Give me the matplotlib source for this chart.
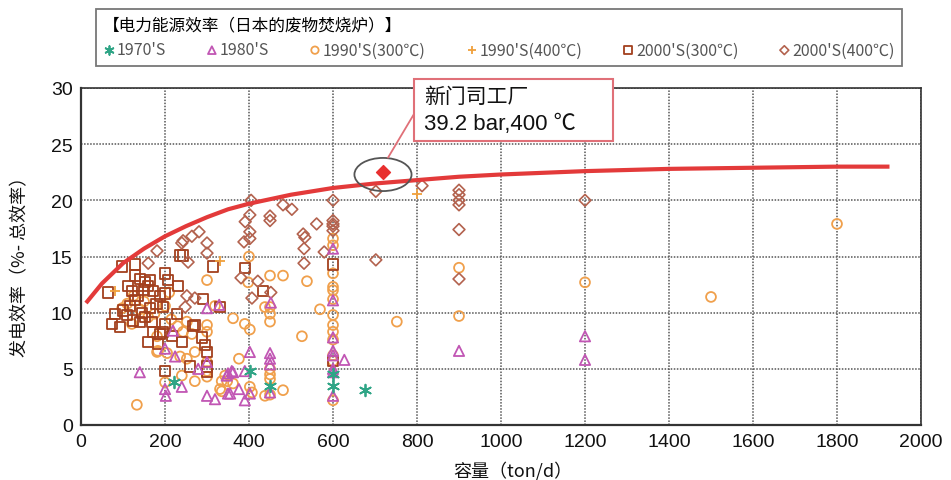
import numpy as np
import matplotlib
matplotlib.use("Agg")
import matplotlib.pyplot as plt
from matplotlib.patches import Ellipse, Rectangle, ConnectionPatch

cjk = ['Noto Sans CJK SC', 'DejaVu Sans']
latin = ['Liberation Sans', 'Noto Sans CJK SC', 'DejaVu Sans']

# 1970's
s1970_x = [221, 402, 450, 600, 600, 676]
s1970_y = [3.8, 4.8, 3.5, 4.5, 3.5, 3.1]

# 1980's
s1980_x = [140, 200, 224, 219, 200, 202, 240, 300, 329, 300, 300, 319, 355, 347, 362,
           279, 350, 376, 350, 390, 402, 402, 390, 452, 450, 450, 450, 450, 359,
           600, 600, 600, 600, 600, 600, 600, 600, 627, 900, 1200, 1200]
s1980_y = [4.7, 6.8, 6.1, 8.4, 3.2, 2.6, 3.4, 10.4, 10.7, 5.6, 2.6, 2.3, 2.8, 4.4, 4.7,
           5.0, 4.6, 3.2, 2.8, 4.8, 6.5, 2.8, 2.2, 10.9, 6.4, 5.9, 5.4, 2.9, 4.8,
           15.7, 11.1, 7.8, 6.6, 6.2, 5.0, 4.7, 2.6, 5.8, 6.6, 7.9, 5.8]

# 1990's (300°C)
s1990a_x = [133, 200, 240, 271, 331, 348, 181, 205, 236, 252, 271, 243, 264, 252, 300,
            300, 362, 300, 300, 300, 319, 300, 98, 121, 160, 181, 183, 110, 140, 175,
            200, 215, 230, 210, 150, 125,
            343, 335, 335, 362, 376, 390, 402, 402, 407, 438, 438, 400, 398, 450,
            481, 538, 450, 450, 450, 450, 450, 450, 450, 481, 526, 569, 752,
            600, 600, 600, 600, 600, 600, 600, 600, 600, 600, 600, 600, 600,
            900, 900, 1200, 1500, 1800]
s1990a_y = [1.8, 3.8, 4.4, 3.9, 3.2, 3.9, 6.5, 6.4, 6.1, 5.9, 6.5, 8.3, 8.1, 9.2, 8.9,
            8.3, 9.5, 5.6, 4.3, 4.8, 10.6, 12.9, 10.4, 9.0, 9.6, 7.9, 6.6, 10.8, 10.3, 9.9,
            10.6, 9.4, 8.8, 11.8, 11.0, 11.5,
            4.4, 3.0, 3.9, 3.7, 5.9, 9.0, 8.5, 3.4, 2.9, 2.6, 10.5, 15.0, 12.7, 13.3,
            13.3, 12.8, 10.5, 9.9, 9.2, 5.0, 4.5, 4.1, 2.7, 3.1, 7.9, 10.3, 9.2,
            16.6, 16.0, 13.5, 12.3, 12.0, 11.2, 9.8, 8.9, 8.3, 7.6, 6.2, 5.7, 2.2,
            14.0, 9.7, 12.7, 11.4, 17.9]

# 1990's (400°C)
s1990b_x = [81, 331, 800]
s1990b_y = [11.9, 14.6, 20.6]

# 2000's (300°C)
s2000a_x = [65, 74, 93, 81, 100, 109, 124, 140, 152, 169, 117, 129, 164, 195, 229,
            200, 171, 195, 188, 217, 160, 183, 240, 271, 98, 129, 236, 243, 314, 200,
            207, 231, 129, 140, 152, 160, 121, 136, 171, 188, 200, 290, 331, 390, 433,
            300, 300, 300, 200, 260, 267, 288, 295, 600, 600, 150, 112, 165, 180, 145]
s2000a_y = [11.8, 9.0, 8.7, 9.9, 10.2, 9.8, 9.3, 9.2, 9.6, 9.2, 10.6, 11.1, 10.4, 10.5, 9.9,
            9.0, 8.3, 8.3, 8.1, 7.9, 7.4, 7.2, 7.4, 8.9, 14.1, 14.3, 15.1, 15.1, 14.1, 13.5,
            12.9, 12.4, 13.3, 13.0, 12.7, 12.4, 11.9, 11.5, 11.9, 11.5, 11.7, 11.2, 10.5, 14.0, 11.9,
            6.5, 5.2, 4.7, 4.8, 5.2, 8.8, 7.8, 7.1, 14.3, 5.7, 12.0, 12.4, 12.9, 10.8, 10.0]

# 2000's (400°C)
s2000b_x = [702, 812, 900, 900, 900, 900, 900, 900, 1200, 600, 600, 600, 600, 600,
            561, 529, 533, 531, 531, 579, 702, 405, 481, 502, 402, 391, 450, 450,
            402, 402, 388, 381, 421, 452, 407, 281, 264, 243, 240, 181, 300, 300,
            255, 160, 252, 271, 248]
s2000b_y = [20.8, 21.3, 20.9, 20.5, 20.0, 19.6, 17.4, 13.0, 20.0, 20.0, 18.2, 17.9, 17.7, 17.3,
            17.9, 17.0, 16.7, 15.7, 14.4, 15.4, 14.7, 20.0, 19.6, 19.2, 18.7, 18.1, 18.6, 18.2,
            17.2, 16.6, 16.3, 13.1, 12.8, 11.8, 11.3, 17.2, 16.8, 16.4, 16.2, 15.5, 16.2, 15.3,
            14.5, 14.4, 11.5, 11.3, 10.5]

# trend curve
curve_x = [15, 50, 100, 150, 200, 250, 300, 350, 400, 500, 600, 700, 800, 900,
           1000, 1200, 1400, 1600, 1800, 1920]
curve_y = [11.0, 12.6, 14.4, 15.7, 16.8, 17.7, 18.5, 19.2, 19.7, 20.5, 21.1, 21.5, 21.8,
           22.1, 22.3, 22.6, 22.8, 22.9, 23.0, 23.0]

# 新门司工厂
shin_x = [719]
shin_y = [22.5]

fig = plt.figure(figsize=(9.51, 4.81), dpi=100)
ax = fig.add_axes([81/951, 55/481, 840/951, 337/481])

ax.set_xlim(0, 2000)
ax.set_ylim(0, 30)
ax.set_xticks(np.arange(0, 2001, 200))
ax.set_yticks(np.arange(0, 31, 5))
ax.grid(True, color='#555555', linestyle=(0, (1, 1)), linewidth=1.1)
ax.set_axisbelow(True)
for sp in ax.spines.values():
    sp.set_color('#333333')
    sp.set_linewidth(1.2)
ax.spines['left'].set_linewidth(1.6)
ax.spines['bottom'].set_linewidth(1.6)
ax.tick_params(length=0, pad=6, labelsize=14, colors='#111111')
for lab in ax.get_xticklabels() + ax.get_yticklabels():
    lab.set_family(latin)

c70 = '#2fa586'
c80 = '#c156b4'
c90 = '#f0a04c'
c90b = '#f0a03c'
c00a = '#a3401e'
c00b = '#b3624e'

ax.scatter(s1990a_x, s1990a_y, s=50, marker='o', facecolors='none', edgecolors=c90,
           linewidths=1.3, label="1990'S(300℃)", zorder=3)
ax.scatter(s2000a_x, s2000a_y, s=55, marker='s', facecolors='none', edgecolors=c00a,
           linewidths=1.3, label="2000'S(300℃)", zorder=3)
ax.scatter(s2000b_x, s2000b_y, s=36, marker='D', facecolors='none', edgecolors=c00b,
           linewidths=1.2, label="2000'S(400℃)", zorder=3)
ax.scatter(s1980_x, s1980_y, s=55, marker='^', facecolors='none', edgecolors=c80,
           linewidths=1.3, label="1980'S", zorder=4)
ax.scatter(s1990b_x, s1990b_y, s=60, marker='+', color=c90b, linewidths=1.3,
           label="1990'S(400℃)", zorder=4)
ax.scatter(s1970_x, s1970_y, s=70, marker=(6, 2, 0), color=c70, linewidths=1.3,
           label="1970'S", zorder=4)

ax.plot(curve_x, curve_y, color='#e33a3a', linewidth=3, zorder=5)

ax.scatter(shin_x, shin_y, s=50, marker='D', color='#e8302f', zorder=6)
ax.add_patch(Ellipse((shin_x[0], shin_y[0] - 0.2), 136, 2.95, fill=False,
                     edgecolor='#555555', linewidth=1.3, zorder=6))

# annotation box
fig.add_artist(Rectangle((414/951, 1 - 142/481), 199/951, 62/481, transform=fig.transFigure,
                         facecolor='white', edgecolor='#e07078', linewidth=1.5, zorder=10))
fig.text(424/951, 1 - 97/481, '新门司工厂', fontsize=15, family=cjk, va='center',
         ha='left', color='#111111', zorder=11)
fig.text(424/951, 1 - 125/481, '39.2 bar,400 ℃', fontsize=16, family=latin, va='center',
         ha='left', color='#111111', zorder=11)
con = ConnectionPatch(xyA=(414/951, 1 - 115/481), coordsA='figure fraction',
                      xyB=(shin_x[0] + 12, shin_y[0] + 1.3), coordsB='data', axesB=ax,
                      color='#e07078', linewidth=1.3, zorder=9)
fig.add_artist(con)

# axis titles
fig.text(20/951, 1 - 262/481, '发电效率（%- 总效率）', rotation=90, fontsize=13,
         family=cjk, ha='center', va='center', color='#111111')
fig.text(513/951, 1 - 471/481, '容量（ton/d）', fontsize=13, family=cjk,
         ha='center', va='center', color='#111111')

# legend
handles, labels = ax.get_legend_handles_labels()
order = ["1970'S", "1980'S", "1990'S(300℃)", "1990'S(400℃)", "2000'S(300℃)", "2000'S(400℃)"]
hmap = dict(zip(labels, handles))
leg = fig.legend([hmap[k] for k in order], order, loc='upper left',
                 bbox_to_anchor=(88/951, 1 - 7/481, 822/951, 0.01), mode='expand',
                 ncol=6, frameon=True, fancybox=False, edgecolor='#555555',
                 title='【电力能源效率（日本的废物焚烧炉）】', alignment='left',
                 handlelength=0.7, handletextpad=0.15, columnspacing=0.8,
                 borderpad=0.45, markerscale=0.75, prop={'family': cjk, 'size': 11.5},
                 title_fontproperties={'family': cjk, 'size': 12})
leg.get_frame().set_linewidth(1.3)
for t in leg.get_texts():
    t.set_color('#555555')

fig.savefig('out.png', dpi=100)
